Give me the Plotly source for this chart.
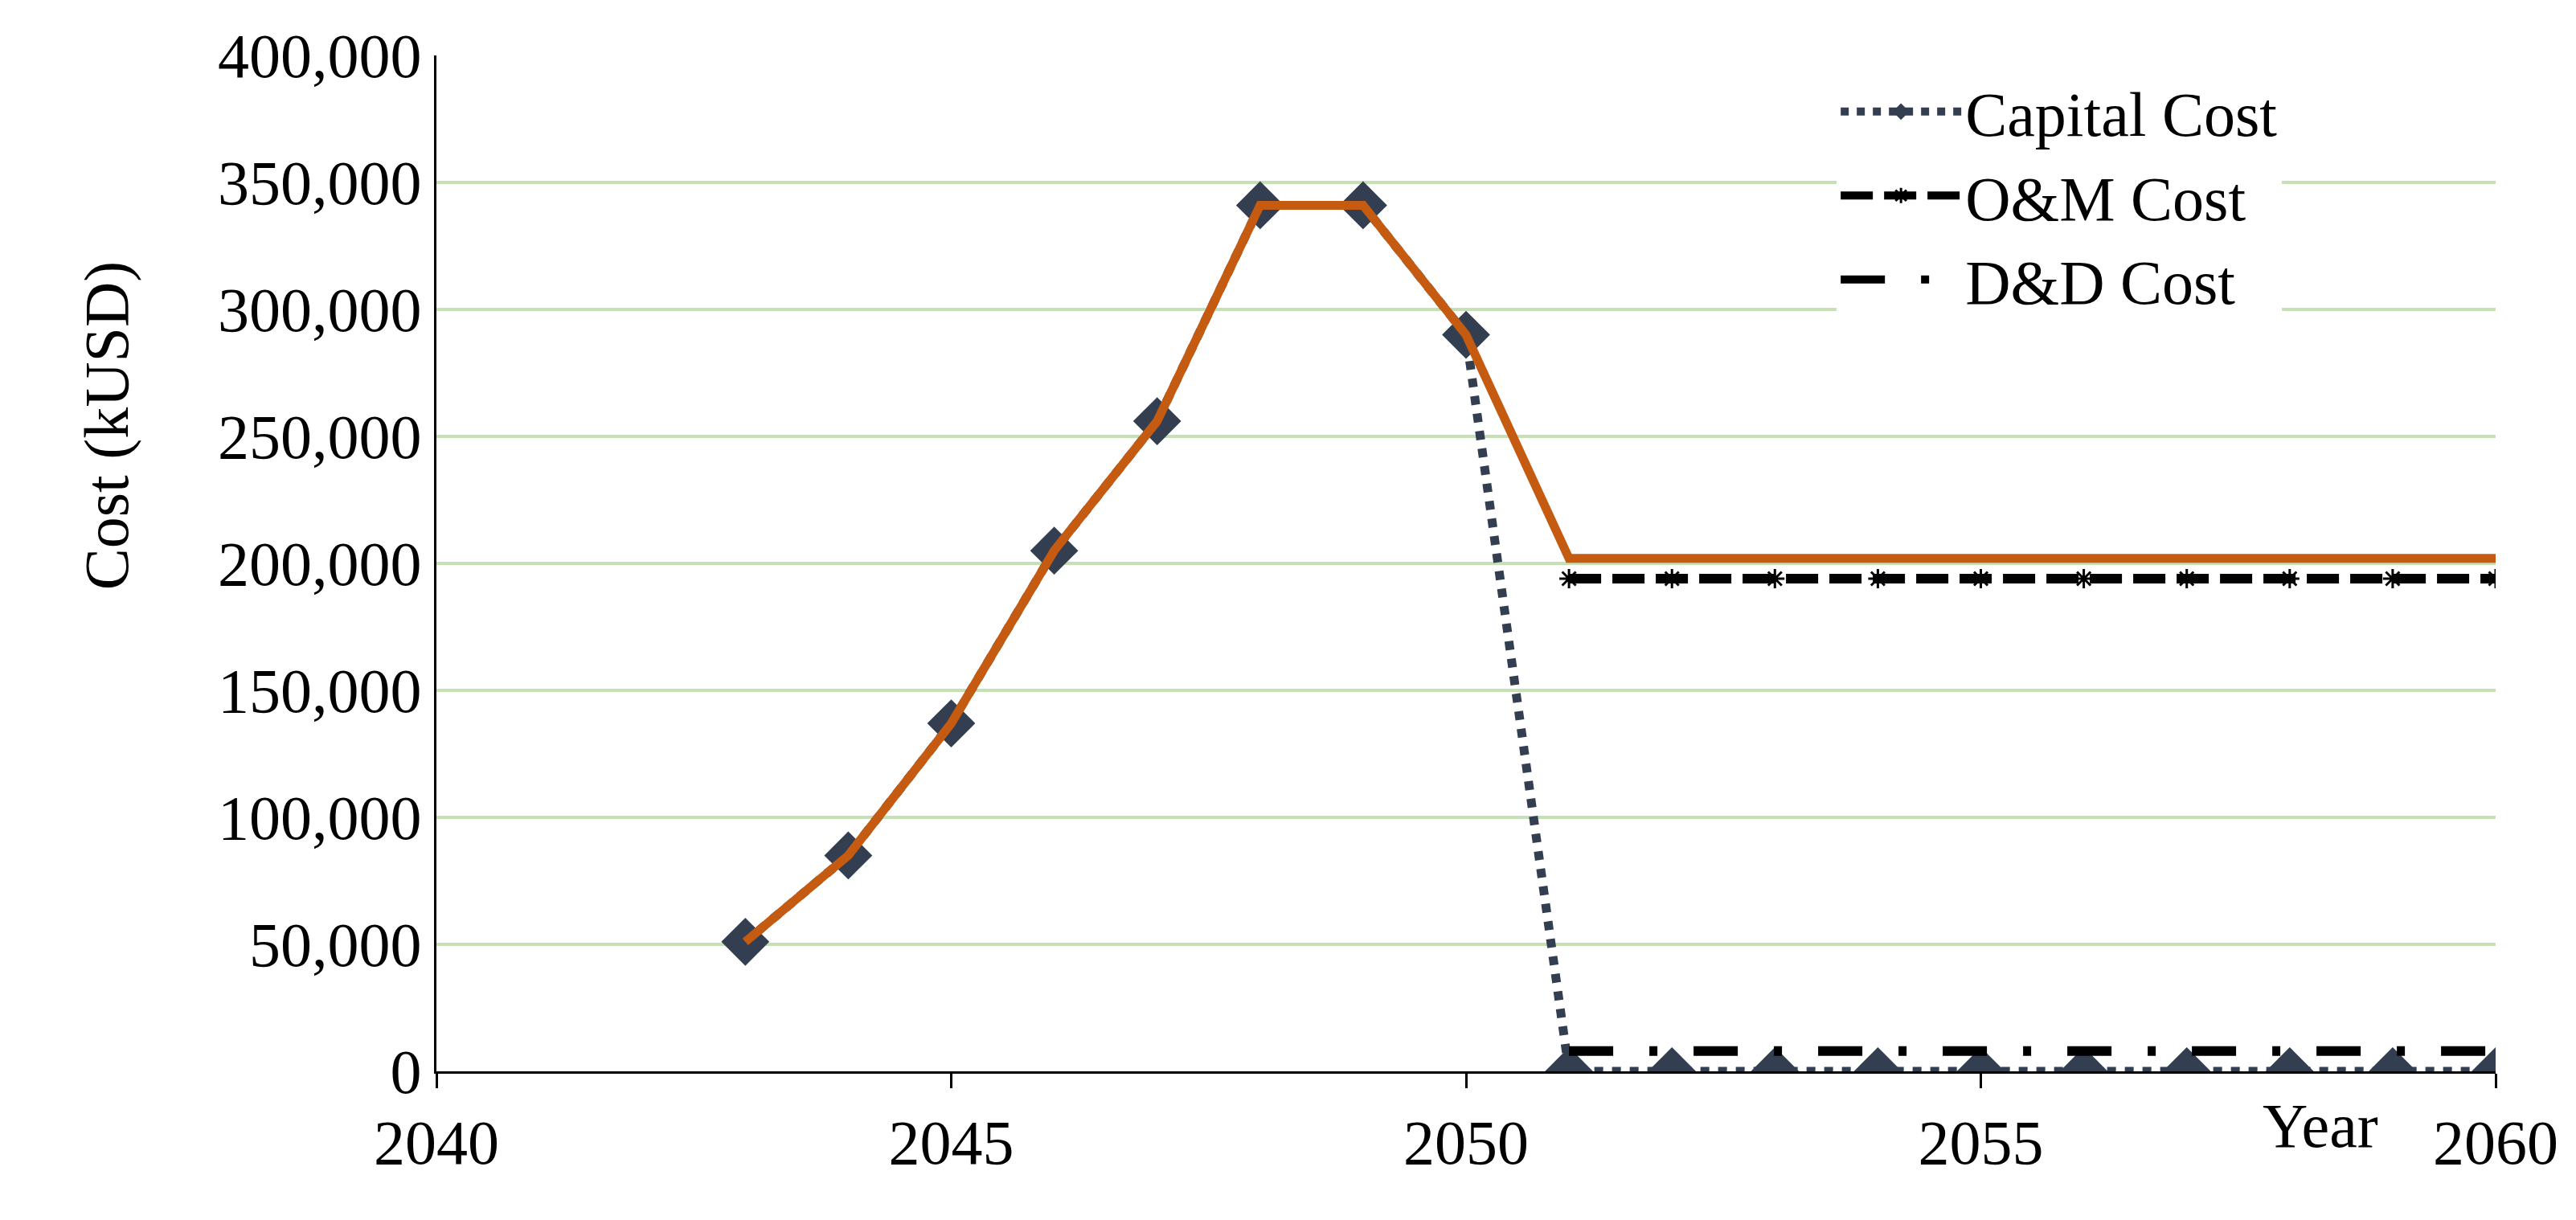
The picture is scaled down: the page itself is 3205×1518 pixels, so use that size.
import plotly.graph_objects as go

years = list(range(2043, 2061))
capital = [51000, 85000, 137000, 205000, 256000, 341000, 341000, 290000] + [0]*10
om_years = list(range(2051, 2061))
om = [194000]*10
dd = [8000]*10
total = [51000, 85000, 137000, 205000, 256000, 341000, 341000, 290000] + [202000]*10

F = "Liberation Serif"
fig = go.Figure()
fig.add_trace(go.Scatter(x=years, y=capital, name="Capital Cost", mode="lines+markers",
    line=dict(color="#333F50", width=11, dash="dot"),
    marker=dict(symbol="diamond", size=46, color="#333F50")))
fig.add_trace(go.Scatter(x=om_years, y=om, name="O&M Cost", mode="lines+markers",
    line=dict(color="black", width=12, dash="40px,14px"),
    marker=dict(symbol="asterisk-open", size=20, color="black", line=dict(width=3, color="black"))))
fig.add_trace(go.Scatter(x=om_years, y=dd, name="D&D Cost", mode="lines",
    line=dict(color="black", width=12, dash="55px,45px,10px,45px")))
fig.add_trace(go.Scatter(x=years, y=total, name="Total", mode="lines", showlegend=False,
    line=dict(color="#C55A11", width=11)))

fig.update_layout(
    width=3205, height=1518, paper_bgcolor="white", plot_bgcolor="white",
    margin=dict(l=535, r=108, t=61, b=193),
    font=dict(family=F, size=78, color="black"),
    xaxis=dict(range=[2040, 2060], tickvals=[2040, 2045, 2050, 2055, 2060], showgrid=False,
               showline=True, linecolor="black", linewidth=3, ticks="outside", ticklen=18,
               tickwidth=3, tickcolor="black", zeroline=False),
    yaxis=dict(range=[0, 400000], dtick=50000, tickformat=",d", showgrid=True,
               gridcolor="#C5E0B4", gridwidth=4, showline=True, linecolor="black", linewidth=3,
               zeroline=False, ticks=""),
    legend=dict(x=0.68, y=0.99, xanchor="left", yanchor="top", bgcolor="rgba(255,255,255,1)",
                font=dict(size=78), itemwidth=150, tracegroupgap=20),
    annotations=[dict(text="Year", x=2058.3, y=0, xref="x", yref="paper", yanchor="top",
                      yshift=-22, showarrow=False, font=dict(size=78)),
                 dict(text="Cost (kUSD)", textangle=-90, x=-0.178, y=0.8, xref="paper",
                      yref="paper", showarrow=False, font=dict(size=78))],
)
fig.write_html("out.html")
